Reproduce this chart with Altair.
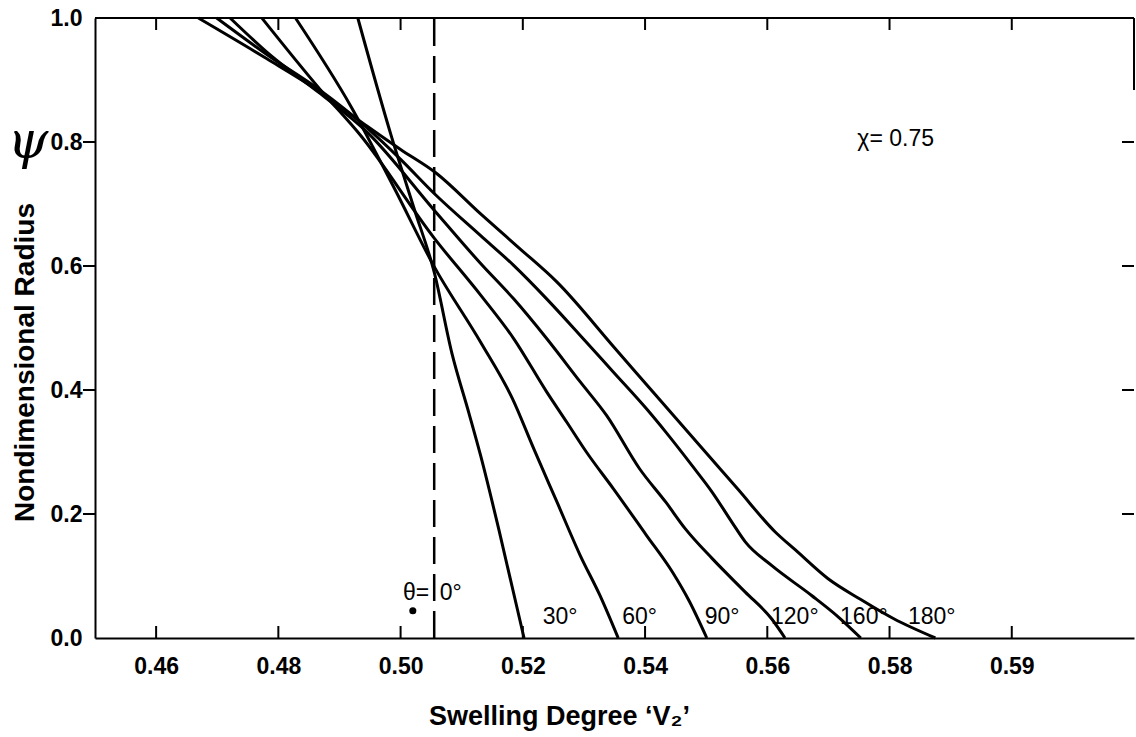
import altair as alt
import pandas as pd

# ---------------- data ----------------
theta_labels = ["30°", "60°", "90°", "120°", "160°", "180°"]

theta_30_x = [0.4930, 0.4985, 0.5023, 0.5055, 0.5084, 0.5112, 0.5131, 0.5161, 0.5202]
theta_30_y = [1.000, 0.809, 0.690, 0.590, 0.459, 0.362, 0.294, 0.174, 0.000]

theta_60_x = [0.4828, 0.4919, 0.4990, 0.5055, 0.5131, 0.5183, 0.5218, 0.5256, 0.5294, 0.5326, 0.5356]
theta_60_y = [1.000, 0.857, 0.725, 0.599, 0.477, 0.386, 0.305, 0.219, 0.133, 0.069, 0.000]

theta_90_x = [0.4773, 0.4869, 0.4935, 0.5055, 0.5131, 0.5185, 0.5239, 0.5272, 0.5304,
              0.5348, 0.5402, 0.5445, 0.5472, 0.5501]
theta_90_y = [1.000, 0.884, 0.810, 0.645, 0.553, 0.483, 0.397, 0.348, 0.300,
              0.241, 0.166, 0.106, 0.060, 0.000]

theta_120_x = [0.4721, 0.4787, 0.4866, 0.4946, 0.5055, 0.5131, 0.5185, 0.5239, 0.5294, 0.5337,
               0.5391, 0.5434, 0.5466, 0.5510, 0.5564, 0.5607, 0.5629]
theta_120_y = [1.000, 0.940, 0.880, 0.815, 0.690, 0.604, 0.547, 0.483, 0.413, 0.359,
               0.273, 0.219, 0.176, 0.128, 0.074, 0.031, 0.000]

theta_160_x = [0.4699, 0.4787, 0.4866, 0.4946, 0.5000, 0.5055, 0.5131, 0.5185, 0.5239, 0.5294,
               0.5348, 0.5402, 0.5434, 0.5477, 0.5510, 0.5542, 0.5564, 0.5607, 0.5672,
               0.5715, 0.5753]
theta_160_y = [1.000, 0.937, 0.885, 0.822, 0.772, 0.717, 0.649, 0.601, 0.547, 0.488,
               0.429, 0.370, 0.332, 0.278, 0.235, 0.187, 0.155, 0.117, 0.069,
               0.035, 0.000]

theta_180_x = [0.4669, 0.4780, 0.4862, 0.4946, 0.5000, 0.5058, 0.5131, 0.5194, 0.5256,
               0.5351, 0.5418, 0.5503, 0.5551, 0.5613, 0.5646, 0.5699, 0.5753, 0.5807, 0.5875]
theta_180_y = [1.000, 0.935, 0.885, 0.825, 0.788, 0.750, 0.684, 0.629, 0.574,
               0.467, 0.391, 0.295, 0.241, 0.171, 0.142, 0.096, 0.062, 0.031, 0.000]

# theta = 0 deg : uniform swelling (dashed vertical line)
theta_0_x = [0.5055, 0.5055]
theta_0_y = [0.0, 1.0]

# curve labels (near each curve's end on the axis)
label_x = [0.5261, 0.5391, 0.5526, 0.5645, 0.5758, 0.5869]
label_y = [0.034, 0.034, 0.034, 0.034, 0.034, 0.034]

# other annotations
ann_text = ["θ=", "0°", "χ= 0.75"]
ann_x = [0.5047, 0.5064, 0.5810]
ann_y = [0.072, 0.072, 0.805]
ann_align = ["right", "left", "center"]

dot_x = [0.502]
dot_y = [0.044]

psi_text = ["ψ"]
psi_x = [0.4390]
psi_y = [0.800]

x_ticks = [0.46, 0.48, 0.50, 0.52, 0.54, 0.56, 0.58, 0.60]
x_tick_labels = ["0.46", "0.48", "0.50", "0.52", "0.54", "0.56", "0.58", "0.59"]
y_ticks = [0.0, 0.2, 0.4, 0.6, 0.8, 1.0]
y_inner_ticks = [0.2, 0.4, 0.6, 0.8]

# ---------------- tables ----------------
curves = []
for lab, xs, ys in zip(theta_labels,
                       [theta_30_x, theta_60_x, theta_90_x, theta_120_x, theta_160_x, theta_180_x],
                       [theta_30_y, theta_60_y, theta_90_y, theta_120_y, theta_160_y, theta_180_y]):
    for xv, yv in zip(xs, ys):
        curves.append({"theta": lab, "x": xv, "y": yv})
curves_df = pd.DataFrame(curves)
dash_df = pd.DataFrame({"x": theta_0_x, "y": theta_0_y})
labels_df = pd.DataFrame({"t": theta_labels, "x": label_x, "y": label_y})
ann_df = pd.DataFrame({"t": ann_text, "x": ann_x, "y": ann_y, "a": ann_align})
dot_df = pd.DataFrame({"x": dot_x, "y": dot_y})
psi_df = pd.DataFrame({"t": psi_text, "x": psi_x, "y": psi_y})
xt_df = pd.DataFrame({"x": x_ticks})
yt_df = pd.DataFrame({"y": y_inner_ticks})

# ---------------- styling ----------------
W, H = 1039, 620
FONT = "Liberation Sans"
TICK = 12

x_scale = alt.Scale(domain=[0.45, 0.62], nice=False, zero=False)
y_scale = alt.Scale(domain=[0.0, 1.0], nice=False, zero=False)

label_expr = "[" + ",".join("'%s'" % s for s in x_tick_labels) + "][round((datum.value - %s) / 0.02)]" % x_ticks[0]

x_axis = alt.Axis(values=x_ticks, labelExpr=label_expr, ticks=False, grid=False,
                  domain=True, domainColor="black", domainWidth=2,
                  labelFont=FONT, labelFontSize=23, labelFontWeight="bold",
                  labelColor="black", labelPadding=17,
                  title="Swelling Degree ‘V₂’", titleFont=FONT, titleFontSize=27,
                  titleFontWeight="bold", titleColor="black",
                  titleX=464, titleY=78, titleBaseline="middle", titleAlign="center")
y_axis = alt.Axis(values=y_ticks, format=".1f", ticks=False, grid=False,
                  domain=True, domainColor="black", domainWidth=2,
                  labelFont=FONT, labelFontSize=23, labelFontWeight="bold",
                  labelColor="black", labelPadding=13,
                  title="Nondimensional Radius", titleFont=FONT, titleFontSize=28,
                  titleFontWeight="bold", titleColor="black",
                  titleX=-70, titleY=344, titleAngle=270, titleBaseline="middle",
                  titleAlign="center")

X = alt.X("x:Q", scale=x_scale, axis=x_axis)
Y = alt.Y("y:Q", scale=y_scale, axis=y_axis)

lines = alt.Chart(curves_df).mark_line(color="black", strokeWidth=3, interpolate="monotone").encode(
    x=X, y=Y, detail="theta:N", order="x:Q")

dashed = alt.Chart(dash_df).mark_line(color="black", strokeWidth=2.5, strokeDash=[27, 10]).encode(
    x=X, y=Y)

curve_labels = alt.Chart(labels_df).mark_text(font=FONT, fontSize=23, color="black",
                                              baseline="middle", align="center").encode(
    x=X, y=Y, text="t:N")

ann_layers = []
for al in ["right", "left", "center"]:
    ann_layers.append(
        alt.Chart(ann_df[ann_df["a"] == al]).mark_text(font=FONT, fontSize=23,
                                                      color="black", baseline="middle",
                                                      align=al).encode(
            x=X, y=Y, text="t:N"))

dot = alt.Chart(dot_df).mark_point(filled=True, color="black", size=50, opacity=1).encode(x=X, y=Y)

psi = alt.Chart(psi_df).mark_text(font="DejaVu Serif", fontStyle="italic", fontSize=52,
                                  color="black", baseline="middle", align="center").encode(
    x=X, y=Y, text="t:N")

# frame and inward ticks (positions along the axes come from the tick lists)
frame_df = pd.DataFrame({"k": [0]})
top_border = alt.Chart(frame_df).mark_rule(color="black", strokeWidth=2).encode(
    x=alt.value(0), x2=alt.value(W), y=alt.value(0))
right_border = alt.Chart(frame_df).mark_rule(color="black", strokeWidth=2).encode(
    x=alt.value(W), y=alt.value(0), y2=alt.value(72))
ticks_bottom = alt.Chart(xt_df).mark_rule(color="black", strokeWidth=2).encode(
    x=X, y=alt.value(H), y2=alt.value(H - TICK))
ticks_top = alt.Chart(xt_df).mark_rule(color="black", strokeWidth=2).encode(
    x=X, y=alt.value(0), y2=alt.value(TICK))
ticks_left = alt.Chart(yt_df).mark_rule(color="black", strokeWidth=2).encode(
    y=Y, x=alt.value(-TICK), x2=alt.value(0))
ticks_right = alt.Chart(yt_df).mark_rule(color="black", strokeWidth=2).encode(
    y=Y, x=alt.value(W), x2=alt.value(W - TICK))

chart = alt.layer(
    lines, dashed, curve_labels, *ann_layers, dot, psi,
    top_border, right_border, ticks_bottom, ticks_top, ticks_left, ticks_right
).properties(
    width=W, height=H,
    autosize=alt.AutoSizeParams(type="none"),
    padding={"left": 95, "top": 18, "right": 2, "bottom": 99},
    background="white",
).configure_view(stroke=None)

chart.save("out.html", embed_options={"renderer": "svg", "actions": False})
